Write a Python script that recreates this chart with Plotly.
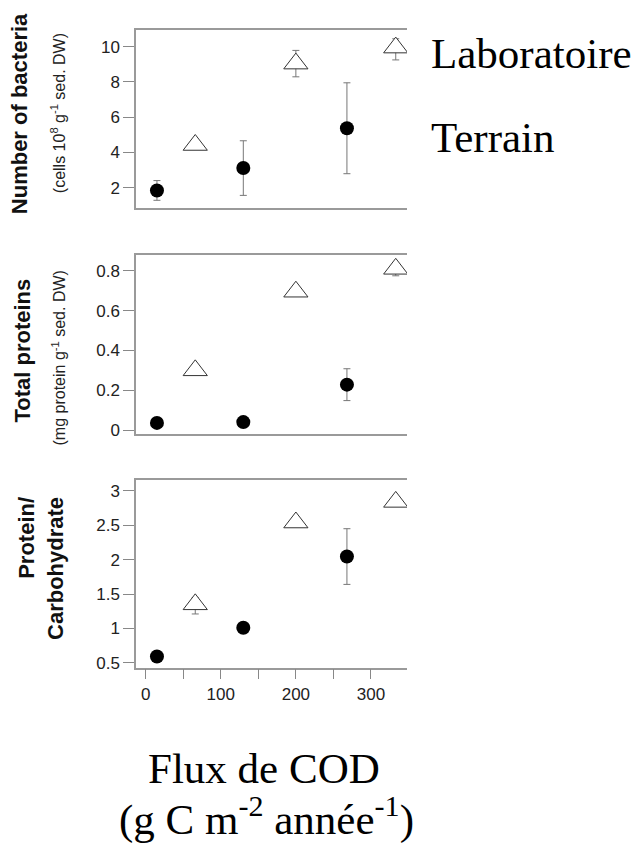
import plotly.graph_objects as go

# ---------------- data ----------------
flux_terrain = [15, 130, 268]
flux_labo = [66, 200, 333]

bact_terrain = [1.84, 3.11, 5.37]
bact_terrain_err = [0.56, 1.55, 2.58]
bact_labo = [4.42, 9.04, 9.95]
bact_labo_err_plus = [0.0, 0.75, 0.5]
bact_labo_err_minus = [0.0, 0.75, 0.7]

prot_terrain = [0.036, 0.04, 0.228]
prot_terrain_err = [0.0, 0.0, 0.08]
prot_labo = [0.30, 0.695, 0.81]
prot_labo_err_plus = [0.0, 0.0, 0.02]
prot_labo_err_minus = [0.0, 0.0, 0.035]

ratio_terrain = [0.59, 1.01, 2.045]
ratio_terrain_err = [0.0, 0.0, 0.405]
ratio_labo = [1.35, 2.54, 2.84]
ratio_labo_err_plus = [0.1, 0.0, 0.0]
ratio_labo_err_minus = [0.14, 0.0, 0.0]

x_tickvals = [0, 100, 200, 300]
x_minor_step = 50
bact_ticks = [2, 4, 6, 8, 10]
prot_ticks = [0, 0.2, 0.4, 0.6, 0.8]
ratio_ticks = [0.5, 1, 1.5, 2, 2.5, 3]

panel_titles = [
    ("<b>Number of bacteria</b>", "(cells 10<sup>8</sup> g<sup>-1</sup> sed. DW)"),
    ("<b>Total proteins</b>", "(mg protein g<sup>-1</sup> sed. DW)"),
    ("<b>Protein/</b>", "<b>Carbohydrate</b>"),
]
legend_labels = ["Laboratoire", "Terrain"]
x_title = ["Flux de COD", "(g C m<sup>-2</sup> année<sup>-1</sup>)"]

# ---------------- style ----------------
W, H = 639, 854
AX_COL = "#9a9a9a"
TICK_FONT = dict(family="Liberation Sans, Arial, sans-serif", size=17, color="#222")
ERR_COL = "#777777"

x_dom = [136 / W, 407 / W]
y_doms = [
    [1 - 209 / H, 1 - 30 / H],
    [1 - 436.7 / H, 1 - 256.7 / H],
    [1 - 672.3 / H, 1 - 483.3 / H],
]
y_ranges = [[0.87, 10.96], [-0.018, 0.88], [0.43, 3.16]]
x_range = [-12.9, 348]

fig = go.Figure()

panels = [
    (bact_terrain, bact_terrain_err, bact_labo, bact_labo_err_plus, bact_labo_err_minus, bact_ticks),
    (prot_terrain, prot_terrain_err, prot_labo, prot_labo_err_plus, prot_labo_err_minus, prot_ticks),
    (ratio_terrain, ratio_terrain_err, ratio_labo, ratio_labo_err_plus, ratio_labo_err_minus, ratio_ticks),
]

for i, (yt, et, yl, elp, elm, _t) in enumerate(panels):
    xa = "x" if i == 0 else f"x{i+1}"
    ya = "y" if i == 0 else f"y{i+1}"
    fig.add_trace(go.Scatter(
        x=flux_labo, y=yl, mode="markers", xaxis=xa, yaxis=ya,
        name=legend_labels[0], showlegend=False,
        marker=dict(symbol="triangle-up", size=21, color="white",
                    line=dict(color="#333", width=1)),
        error_y=dict(type="data", array=elp, arrayminus=elm, symmetric=False,
                     visible=True, color=ERR_COL, thickness=1, width=3.5),
    ))
    fig.add_trace(go.Scatter(
        x=flux_terrain, y=yt, mode="markers", xaxis=xa, yaxis=ya,
        name=legend_labels[1], showlegend=False,
        marker=dict(symbol="circle", size=14, color="black"),
        error_y=dict(type="data", array=et, visible=True, color=ERR_COL,
                     thickness=1, width=3.5),
    ))

layout = dict(
    width=W, height=H, margin=dict(l=0, r=0, t=0, b=0),
    paper_bgcolor="white", plot_bgcolor="white", showlegend=False,
)

for i in range(3):
    xk = "xaxis" if i == 0 else f"xaxis{i+1}"
    yk = "yaxis" if i == 0 else f"yaxis{i+1}"
    ya = "y" if i == 0 else f"y{i+1}"
    xa = "x" if i == 0 else f"x{i+1}"
    xax = dict(
        domain=x_dom, range=x_range, anchor=ya, showgrid=False, zeroline=False,
        showline=True, linecolor=AX_COL, linewidth=1.5, mirror=True,
        showticklabels=(i == 2), tickfont=TICK_FONT,
    )
    if i == 2:
        xax.update(tickmode="array", tickvals=x_tickvals, ticks="outside",
                   ticklen=10, tickcolor="#888", tickwidth=1.2,
                   minor=dict(dtick=x_minor_step, tick0=0, ticks="outside", ticklen=10,
                              tickcolor="#888", tickwidth=1.2, showgrid=False))
    else:
        xax.update(ticks="")
    layout[xk] = xax
    layout[yk] = dict(
        domain=y_doms[i], range=y_ranges[i], anchor=xa, showgrid=False,
        zeroline=False, showline=True, linecolor=AX_COL, linewidth=1.5,
        mirror=False, tickmode="array", tickvals=panels[i][5],
        ticks="outside", ticklen=11, tickcolor="#888", tickwidth=1.2,
        tickfont=TICK_FONT,
    )

# thick right-hand frame on panels 1 and 3
layout["yaxis4"] = dict(overlaying="y", side="right", anchor="x", range=y_ranges[0],
                        showline=True, linecolor=AX_COL, linewidth=5,
                        showticklabels=False, ticks="", showgrid=False, zeroline=False)
layout["yaxis5"] = dict(overlaying="y3", side="right", anchor="x3", range=y_ranges[2],
                        showline=True, linecolor=AX_COL, linewidth=5,
                        showticklabels=False, ticks="", showgrid=False, zeroline=False)

fig.update_layout(**layout)

ann = []
TITLE_FONT = dict(family="Liberation Sans, Arial, sans-serif", size=22, color="#111")
SUB_FONT = dict(family="Liberation Sans, Arial, sans-serif", size=16, color="#222")
title_pos = [
    ((19, 115), (58, 114)),
    ((23, 353), (59, 361)),
]
for i, ((x1, y1), (x2, y2)) in enumerate(title_pos):
    ann.append(dict(text=panel_titles[i][0], x=x1 / W, y=1 - y1 / H, xref="paper", yref="paper",
                    textangle=-90, showarrow=False, xanchor="center", yanchor="middle",
                    font=TITLE_FONT))
    ann.append(dict(text=panel_titles[i][1], x=x2 / W, y=1 - y2 / H, xref="paper", yref="paper",
                    textangle=-90, showarrow=False, xanchor="center", yanchor="middle",
                    font=SUB_FONT))
ann.append(dict(text=panel_titles[2][0] + "<br>" + panel_titles[2][1], x=41 / W, y=1 - 573 / H,
                xref="paper", yref="paper", textangle=-90, showarrow=False, align="right",
                xanchor="center", yanchor="middle", font=TITLE_FONT))

SERIF = dict(family="Liberation Serif, Times New Roman, serif", size=43, color="black")
ann.append(dict(text=legend_labels[0], x=429 / W, y=1 - 54 / H, xref="paper", yref="paper",
                showarrow=False, xanchor="left", yanchor="middle", font=SERIF))
ann.append(dict(text=legend_labels[1], x=429 / W, y=1 - 138 / H, xref="paper", yref="paper",
                showarrow=False, xanchor="left", yanchor="middle", font=SERIF))
ann.append(dict(text=x_title[0], x=264 / W, y=1 - 774 / H, xref="paper", yref="paper",
                showarrow=False, xanchor="center", yanchor="middle", font=SERIF))
ann.append(dict(text=x_title[1], x=266 / W, y=1 - 822 / H, xref="paper", yref="paper",
                showarrow=False, xanchor="center", yanchor="middle", font=SERIF))

fig.update_layout(annotations=ann)
fig.write_html("out.html", config={"displayModeBar": False},
               post_script="document.body.style.margin='0';")
